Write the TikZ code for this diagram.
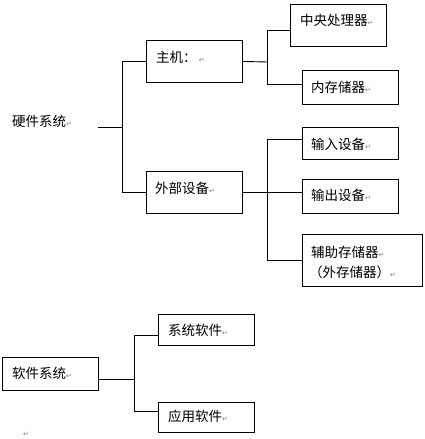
\documentclass[tikz,border=0pt]{standalone}
\usepackage{fontspec}
\newfontfamily\cjk{Noto Sans CJK SC}
\newfontfamily\djv{DejaVu Sans}
\newcommand\retmark{{\djv\fontsize{7}{7}\selectfont\color{gray}↵}}
\begin{document}
\begin{tikzpicture}[x=1pt,y=-1pt,
  box/.style={draw=black,line width=0.9pt,anchor=north west,inner sep=0pt,fill=white},
  txt/.style={anchor=west,inner sep=0pt,font=\cjk\fontsize{13.5}{17}\selectfont,align=left},
  conn/.style={draw=black,line width=0.9pt}]
\useasboundingbox (0,0) rectangle (424,439);
% boxes
\node[box,minimum width=96pt,minimum height=42pt] (zj) at (146,40) {};
\node[box,minimum width=96pt,minimum height=42pt] (cpu) at (290,4) {};
\node[box,minimum width=96pt,minimum height=34pt] (mem) at (302,70) {};
\node[box,minimum width=96pt,minimum height=32pt] (inp) at (302,127) {};
\node[box,minimum width=96pt,minimum height=42pt] (ww) at (146,171) {};
\node[box,minimum width=96pt,minimum height=34pt] (outp) at (302,179) {};
\node[box,minimum width=120pt,minimum height=52pt] (aux) at (302,234) {};
\node[box,minimum width=96pt,minimum height=31pt] (ss) at (158,314) {};
\node[box,minimum width=96pt,minimum height=33pt] (sw) at (2,357) {};
\node[box,minimum width=96pt,minimum height=30pt] (app) at (158,402) {};
% texts
\node[txt] (hwt) at (12,121) {硬件系统\retmark};
\node[txt] (zjt) at (156,57) {主机：\,\retmark};
\node[txt] (cput) at (300,20) {中央处理器\retmark};
\node[txt] (memt) at (311,87) {内存储器\retmark};
\node[txt] (inpt) at (311,144) {输入设备\retmark};
\node[txt] (wwt) at (155,188) {外部设备\retmark};
\node[txt] (outpt) at (311,195) {输出设备\retmark};
\node[txt] (auxt1) at (311,252) {辅助存储器\retmark};
\node[txt] (auxt2) at (309,272) {（外存储器）\retmark};
\node[txt] (sst) at (168,330) {系统软件\retmark};
\node[txt] (swt) at (12,373) {软件系统\retmark};
\node[txt] (appt) at (168,416) {应用软件\retmark};
\node[anchor=center,inner sep=0pt] (endmark) at (26,434) {\retmark};
% connectors
\coordinate (hwout) at (98,127);
\coordinate (hwj) at (122,127);
\draw[conn] (hwout) -- (hwj);
\draw[conn] (zj.west) -| (hwj);
\draw[conn] (ww.west) -| (hwj);
\coordinate (zjj) at (267,62);
\draw[conn] (zj.east) -- (zjj);
\draw[conn] (zjj) |- ([yshift=-5pt]cpu.west);
\draw[conn] (zjj) |- ([yshift=3pt]mem.west);
\coordinate (wwj) at (267,193);
\draw[conn] (ww.east) -- (ww.east -| outp.west);
\draw[conn] (wwj) |- ([yshift=4pt]inp.west);
\draw[conn] (wwj) |- (aux.west);
\draw[conn] ([yshift=-5.5pt]sw.east) -- ++(36,0) coordinate (swj);
\draw[conn] (swj) |- ([yshift=-5.5pt]ss.west);
\draw[conn] (swj) |- ([yshift=6pt]app.west);
\end{tikzpicture}
\end{document}
